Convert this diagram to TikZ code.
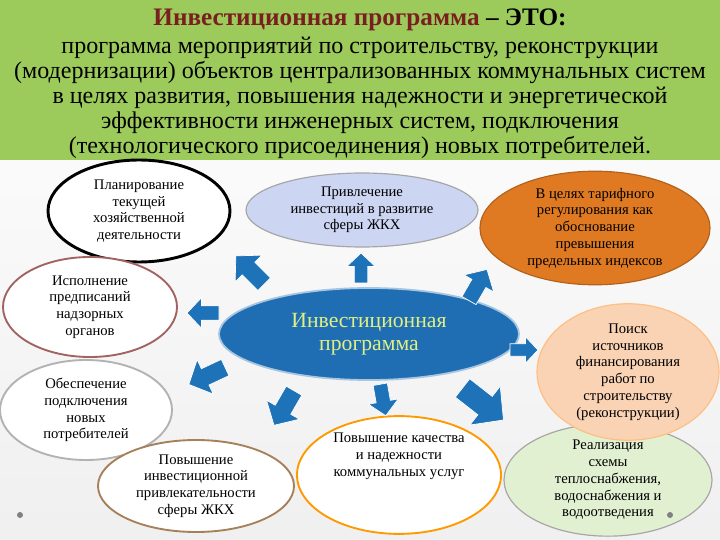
\documentclass[tikz,border=0pt]{standalone}
\usepackage{fontspec}
\setmainfont{Liberation Serif}
\usetikzlibrary{shapes.geometric}
\definecolor{hdr}{HTML}{9CCB5B}
\definecolor{ttl}{HTML}{7A1F1F}
\definecolor{ablue}{HTML}{1E72B8}
\definecolor{cblue}{HTML}{1F6DB3}
\definecolor{lav}{HTML}{CCD5F2}
\definecolor{org}{HTML}{E07A22}
\definecolor{pch}{HTML}{FAD2B4}
\definecolor{lgr}{HTML}{E2F0D2}
\tikzset{
 ell/.style={ellipse,draw,line width=1.6pt,inner sep=0pt,align=center,font=\fontsize{12.5}{14.3}\selectfont},
 barrow/.pic={\fill[ablue,draw=white,line width=0.6pt] (-20,-9) -- (2,-9) -- (2,-19) -- (20,0) -- (2,19) -- (2,9) -- (-20,9) -- cycle;}
}
\begin{document}
\begin{tikzpicture}[x=0.03cm,y=-0.03cm]
\fill[top color=white,bottom color=gray!12] (0,0) rectangle (720,540);
\useasboundingbox (0,0) rectangle (720,540);
\fill[hdr] (0,0) rectangle (720,160);
\node[font=\fontsize{21.5}{22}\selectfont\bfseries] (title) at (360,20) {\textcolor{ttl}{Инвестиционная программа} – ЭТО:};
\node[align=center,font=\fontsize{20.5}{21.3}\selectfont] (def) at (360,98) {программа мероприятий по строительству, реконструкции\\(модернизации) объектов централизованных коммунальных систем\\в целях развития, повышения надежности и энергетической\\эффективности инженерных систем, подключения\\(технологического присоединения) новых потребителей.};
\node[ell,fill=white,draw=black,line width=2.5pt,minimum width=182*0.03cm,minimum height=102*0.03cm] (plan) at (139,211) {Планирование\\текущей\\хозяйственной\\деятельности};
\node[ell,fill=lav,draw=gray!70,line width=1pt,minimum width=232*0.03cm,minimum height=74*0.03cm] (attr) at (362,210) {Привлечение\\инвестиций в развитие\\сферы ЖКХ};
\node[ell,fill=org,draw=org!80!black,line width=1pt,minimum width=230*0.03cm,minimum height=110*0.03cm] (tar) at (595,228) {В целях тарифного\\регулирования как\\обоснование\\превышения\\предельных индексов};
\node[ell,fill=white,draw=ttl!70,minimum width=174*0.03cm,minimum height=100*0.03cm] (isp) at (90,307) {Исполнение\\предписаний\\надзорных\\органов};
\node[ell,fill=white,draw=gray!60,minimum width=172*0.03cm,minimum height=100*0.03cm] (obes) at (86,410) {Обеспечение\\подключения\\новых\\потребителей};
\node[ell,fill=white,draw=brown!60!gray,minimum width=196*0.03cm,minimum height=92*0.03cm] (pov) at (196,486) {Повышение\\инвестиционной\\привлекательности\\сферы ЖКХ};
\node[ell,fill=white,draw=orange!80!yellow,minimum width=204*0.03cm,minimum height=110*0.03cm] (kach) at (399,475) {Повышение качества\\и надежности\\коммунальных услуг\\[1.6em]};
\node[ell,fill=lgr,draw=gray!70,line width=1pt,minimum width=208*0.03cm,minimum height=100*0.03cm] (real) at (608,480) {Реализация\\схемы\\теплоснабжения,\\водоснабжения и\\водоотведения};
\node[ell,fill=pch,draw=orange!50,line width=1pt,minimum width=182*0.03cm,minimum height=116*0.03cm] (poisk) at (628,372) {Поиск\\источников\\финансирования\\работ по\\строительству\\(реконструкции)};
\node[ellipse,fill=cblue,draw=cblue!40,line width=1.5pt,minimum width=300*0.03cm,minimum height=92*0.03cm,align=center,font=\fontsize{18.5}{20}\selectfont,text={rgb,255:red,225;green,240;blue,130}] (ip) at (369,334) {Инвестиционная\\программа};
\pic[rotate=135] at (250,270) {barrow};
\pic[rotate=90,scale=0.75] at (361,268) {barrow};
\pic[rotate=60,scale=0.9] at (478,285) {barrow};
\pic[rotate=180,scale=0.8] at (203,313) {barrow};
\pic[rotate=0,scale=0.7] at (524,350) {barrow};
\pic[rotate=205] at (207,376) {barrow};
\pic[rotate=240] at (284,408) {barrow};
\pic[rotate=-80,scale=0.8] at (383,400) {barrow};
\pic[rotate=-38,scale=1.3] at (483,404) {barrow};
\fill[gray] (20,515) circle (3);
\fill[gray] (670,515) circle (3);
\end{tikzpicture}
\end{document}
